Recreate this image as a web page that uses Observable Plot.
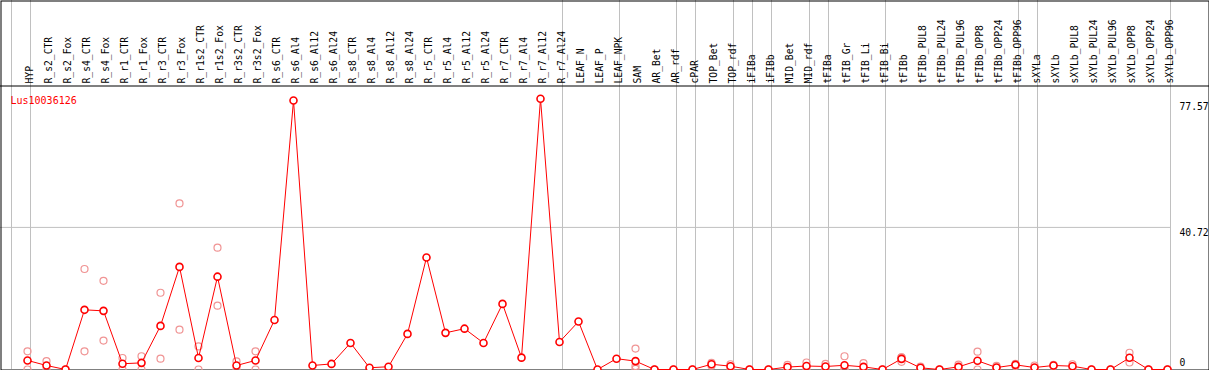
<!DOCTYPE html>
<html>
<head>
<meta charset="utf-8">
<script src="https://cdn.jsdelivr.net/npm/d3@7"></script>
<script src="https://cdn.jsdelivr.net/npm/@observablehq/plot@0.6"></script>
<style>
html, body { margin: 0; padding: 0; background: #fff; overflow: hidden; }
</style>
</head>
<body>
<div id="chart"></div>
<script>
const geneName = "Lus10036126";

const groups = [
  ["HYP"],
  ["R_s2_CTR","R_s2_Fox","R_s4_CTR","R_s4_Fox","R_r1_CTR","R_r1_Fox","R_r3_CTR","R_r3_Fox",
   "R_r1s2_CTR","R_r1s2_Fox","R_r3s2_CTR","R_r3s2_Fox",
   "R_s6_CTR","R_s6_Al4","R_s6_Al12","R_s6_Al24","R_s8_CTR","R_s8_Al4","R_s8_Al12","R_s8_Al24",
   "R_r5_CTR","R_r5_Al4","R_r5_Al12","R_r5_Al24","R_r7_CTR","R_r7_Al4","R_r7_Al12","R_r7_Al24"],
  ["LEAF_N","LEAF_P","LEAF_NPK"],
  ["SAM","AR_Bet","AR_rdf"],
  ["cPAR"],
  ["TOP_Bet","TOP_rdf"],
  ["iFIBa"],
  ["iFIBb"],
  ["MID_Bet","MID_rdf"],
  ["tFIBa"],
  ["tFIB_Gr","tFIB_Li","tFIB_Bi"],
  ["tFIBb","tFIBb_PUL8","tFIBb_PUL24","tFIBb_PUL96","tFIBb_OPP8","tFIBb_OPP24","tFIBb_OPP96"],
  ["sXYLa"],
  ["sXYLb","sXYLb_PUL8","sXYLb_PUL24","sXYLb_PUL96","sXYLb_OPP8","sXYLb_OPP24","sXYLb_OPP96"]
];
const categories = groups.flat();

// mean expression per sample
const meanValues = [
  2.6,
  1.15, 0, 17.1, 16.8, 1.65, 1.9, 12.5, 29.4, 3.3, 26.6, 1.15, 2.6,
  14.2, 77.1, 1.15, 1.6, 7.6, 0.5, 0.8, 10.2,
  32.1, 10.5, 11.7, 7.6, 18.8, 3.4, 77.57, 7.9,
  13.75, 0, 3.1,
  2.4, 0, 0,
  0,
  1.5, 0.95,
  0,
  0,
  0.7, 1.0,
  0.86,
  1.2, 0.76, 0,
  3.05, 0.48, 0, 0.76, 2.5, 0.57, 1.33,
  0.57,
  1.15, 0.95, 0, 0, 3.35, 0, 0
];

// replicate values (null = no replicate shown)
const repA = [
  5.2,
  2.4, 0, 28.8, 25.4, 3.3, 3.8, 22.0, 47.6, 6.6, 34.9, 2.3, 5.2,
  null, null, null, null, null, null, null, null,
  null, null, null, null, null, null, null, null,
  null, null, null,
  6.0, 0, 0,
  0,
  1.9, 1.5,
  0,
  0,
  1.3, 2.0,
  1.6,
  3.8, 1.8, 0,
  3.5, 0.86, 0, 1.4, 5.1, 1.05, 1.6,
  1.15,
  1.3, 1.5, 0, 0, 4.8, 0, 0
];
const repB = [
  0,
  0, 0, 5.2, 8.3, 0, 0, 3.1, 11.4, 0, 18.3, 0, 0,
  null, null, null, null, null, null, null, null,
  null, null, null, null, null, null, null, null,
  null, null, null,
  1.0, 0, 0,
  0,
  1.1, 0.4,
  0,
  0,
  0.1, 0,
  0.1,
  0, 0, 0,
  2.2, 0.1, 0, 0.1, 0, 0.1, 1.0,
  0,
  1.0, 0.4, 0, 0, 2.0, 0, 0
];
const repC = [
  null,
  null, null, null, null, null, null, null, null, null, null, null, null,
  null, null, null, null, null, null, null, null,
  null, null, null, null, null, null, null, null,
  null, null, null,
  0.2, null, null,
  null,
  null, null,
  null,
  null,
  null, null,
  null,
  0, null, null,
  3.5, null, null, null, null, null, null,
  null,
  null, null, null, null, null, null, null
];

const yMax = 77.57;
const yGrid = [40.72];
const yTopLabel = [77.57];
const yMidLabel = [40.72];
const yZeroLabel = [0];

const points = categories.map((name, i) => ({i, name, v: meanValues[i]}));
const reps = [];
[repA, repB, repC].forEach(arr => arr.forEach((v, i) => { if (v != null) reps.push({i, v}); }));
const bounds = [-1];
{ let acc = -1; groups.forEach(g => { acc += g.length; bounds.push(acc); }); }

const W = 1209, H = 370;
const mTop = 98.3, mBottom = 1, mLeft = 27, mRight = 42;
const grid = "#c0c0c0";
const red = "#ff0000";
const pink = "#f09494";
const font = "DejaVu Sans Mono";

const chart = Plot.plot({
  width: W,
  height: H,
  marginTop: mTop,
  marginBottom: mBottom,
  marginLeft: mLeft,
  marginRight: mRight,
  x: {type: "linear", domain: [0, categories.length - 1], axis: null},
  y: {domain: [0, yMax], axis: null},
  style: {fontFamily: font, fontSize: "9.7px", background: "white"},
  marks: [
    Plot.ruleX(bounds, {x: d => d, dx: 3, stroke: grid, strokeWidth: 1, insetTop: -mTop}),
    Plot.ruleY(yGrid, {y: d => d, stroke: grid, strokeWidth: 1, insetLeft: -mLeft, insetRight: -3.7}),
    Plot.frame({anchor: "top", insetTop: -12.8, insetLeft: -mLeft, insetRight: -mRight, stroke: "black"}),
    Plot.frame({insetTop: -(mTop - 0.5), insetLeft: -(mLeft - 0.5), insetRight: -(mRight - 0.5), insetBottom: -0.5, stroke: "black"}),
    Plot.text(categories, {x: (d, i) => i, text: d => d, frameAnchor: "top", rotate: -90, textAnchor: "start", dy: -15.3, dx: -1, fill: "black"}),
    Plot.text([geneName], {text: d => d, frameAnchor: "top-left", textAnchor: "start", dx: -17, dy: -1.6, fill: red, fontSize: 10}),
    Plot.text(yTopLabel, {y: d => d, text: d => String(d), frameAnchor: "right", textAnchor: "start", dx: 12, dy: 8.4, fill: "black"}),
    Plot.text(yMidLabel, {y: d => d, text: d => String(d), frameAnchor: "right", textAnchor: "start", dx: 12, dy: 5.1, fill: "black"}),
    Plot.text(yZeroLabel, {y: d => d, text: d => String(d), frameAnchor: "right", textAnchor: "start", dx: 12, dy: -7, fill: "black"}),
    Plot.dot(reps, {x: "i", y: "v", r: 3.5, stroke: pink, strokeWidth: 1.2, fill: "none"}),
    Plot.line(points, {x: "i", y: "v", stroke: red, strokeWidth: 1}),
    Plot.dot(points, {x: "i", y: "v", r: 3.5, stroke: red, strokeWidth: 1.6, fill: "white"})
  ]
});
document.getElementById("chart").appendChild(chart);
</script>
</body>
</html>
